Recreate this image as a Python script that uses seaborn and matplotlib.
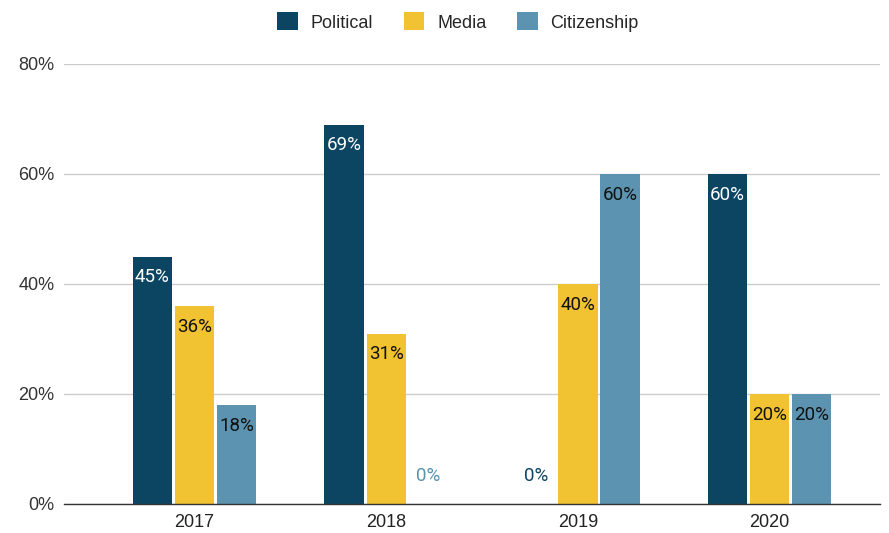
import matplotlib
matplotlib.use("Agg")
import matplotlib.pyplot as plt
import seaborn as sns
import pandas as pd
from matplotlib.patches import Patch

years = ["2017", "2018", "2019", "2020"]
series = ["Political", "Media", "Citizenship"]
political = [45, 69, 0, 60]
media = [36, 31, 40, 20]
citizenship = [18, 0, 60, 20]
colors = ["#0b4562", "#f1c232", "#5b93b0"]
label_colors = ["white", "#111111", "#111111"]

rows = []
for s, vals in zip(series, [political, media, citizenship]):
    for y, v in zip(years, vals):
        rows.append({"Year": y, "Series": s, "Value": v})
df = pd.DataFrame(rows)

sns.set_theme(style="white")
plt.rcParams["font.family"] = ["Liberation Sans", "DejaVu Sans"]

fig = plt.figure(figsize=(8.89, 5.33), dpi=100)
W, H = 889, 533
ax = fig.add_axes([64 / W, 1 - 504 / H, (880 - 64) / W, (504 - 64) / H])

sns.barplot(data=df, x="Year", y="Value", hue="Series", palette=colors,
            width=0.66, gap=0.07, ax=ax, legend=False, saturation=1,
            edgecolor="none", linewidth=0)

ax.set_xlim(-0.681, 3.576)
ax.set_ylim(0, 80)
ax.set_yticks([0, 20, 40, 60, 80])
ax.set_yticklabels([f"{t}%" for t in [0, 20, 40, 60, 80]], fontsize=13, color="#333333")
ax.set_xticklabels(years, fontsize=13, color="#222222")
ax.set_xlabel("")
ax.set_ylabel("")
ax.yaxis.grid(True, color="#cccccc", linewidth=1)
ax.set_axisbelow(True)
for sp in ["top", "right", "left"]:
    ax.spines[sp].set_visible(False)
ax.spines["bottom"].set_color("#333333")
ax.spines["bottom"].set_linewidth(1)
ax.tick_params(axis="both", length=0, pad=7)

for i, cont in enumerate(ax.containers):
    for bar, v in zip(cont, [political, media, citizenship][i]):
        xc = bar.get_x() + bar.get_width() / 2
        if v == 0:
            ax.annotate(f"{v}%", (xc, 0), xytext=(0, 20.5), textcoords="offset points",
                        ha="center", va="center", fontsize=13.5, color=colors[i],
                        family=["Roboto", "DejaVu Sans"])
        else:
            ax.annotate(f"{v}%", (xc, v), xytext=(0, -15), textcoords="offset points",
                        ha="center", va="center", fontsize=13.5, color=label_colors[i],
                        family=["Roboto", "DejaVu Sans"])

handles = [Patch(facecolor=c, edgecolor="none") for c in colors]
fig.legend(handles, series, loc="center", bbox_to_anchor=(0.515, 1 - 22 / H), ncol=3,
           frameon=False, fontsize=13, handlelength=1.15, handleheight=1.15,
           columnspacing=1.7, handletextpad=0.7)

fig.savefig("out.png", dpi=100)
